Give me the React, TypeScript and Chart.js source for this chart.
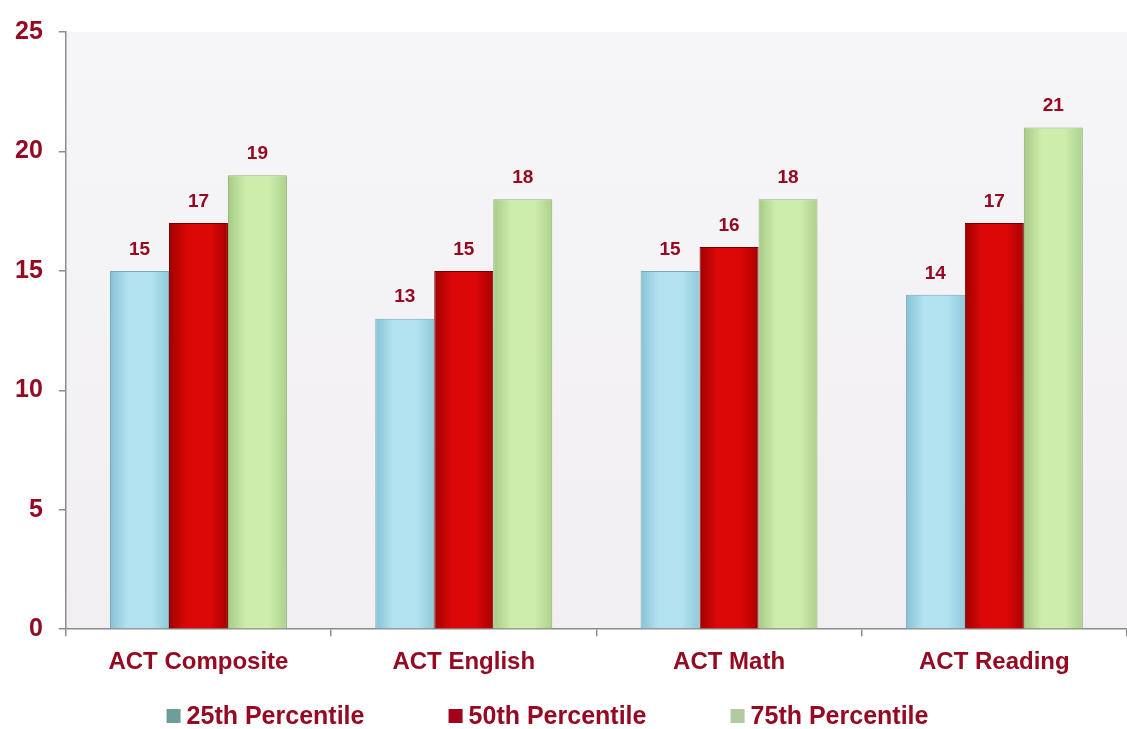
import React, { useEffect, useRef } from "react";
import { Chart, registerables } from "chart.js";

Chart.register(...registerables);

const categories = ["ACT Composite", "ACT English", "ACT Math", "ACT Reading"];
const seriesNames = ["25th Percentile", "50th Percentile", "75th Percentile"];
const p25 = [15, 13, 15, 14];
const p50 = [17, 15, 16, 17];
const p75 = [19, 18, 18, 21];
const yTicks = [0, 5, 10, 15, 20, 25];

const TEXT = "#950A22";
const FONT = "'Liberation Sans', Arial, sans-serif";

const fills = [
  ["#86C2D4", "#B2E2F0", "#8FCADB"],
  ["#A00000", "#DC0808", "#A80000"],
  ["#A6CB86", "#CDEDAB", "#ACD08C"],
];
const borders = ["#78A9B8", "#6E0000", "#93B474"];
const legendBoxes = ["#6E9E9A", "#A3001C", "#B2C9A4"];

const bgPlugin = {
  id: "plotBg",
  beforeDraw(chart: any) {
    const { ctx, chartArea: a } = chart;
    ctx.save();
    const g = ctx.createLinearGradient(0, a.top, 0, a.bottom);
    g.addColorStop(0, "#F6F5F7");
    g.addColorStop(1, "#F1EFF2");
    ctx.fillStyle = g;
    ctx.fillRect(a.left, a.top, a.right - a.left, a.bottom - a.top);
    ctx.restore();
  },
};

const barGradientPlugin = {
  id: "barGradient",
  beforeDatasetsDraw(chart: any) {
    const { ctx } = chart;
    chart.data.datasets.forEach((_: any, di: number) => {
      const meta = chart.getDatasetMeta(di);
      meta.data.forEach((el: any) => {
        const half = el.width / 2;
        const g = ctx.createLinearGradient(el.x - half, 0, el.x + half, 0);
        g.addColorStop(0, fills[di][0]);
        g.addColorStop(0.3, fills[di][1]);
        g.addColorStop(0.7, fills[di][1]);
        g.addColorStop(1, fills[di][2]);
        el.options = { ...el.options, backgroundColor: g };
      });
    });
  },
};

const labelPlugin = {
  id: "valueLabels",
  afterDatasetsDraw(chart: any) {
    const { ctx } = chart;
    ctx.save();
    ctx.font = `bold 19px ${FONT}`;
    ctx.fillStyle = TEXT;
    ctx.textAlign = "center";
    ctx.textBaseline = "bottom";
    chart.data.datasets.forEach((ds: any, di: number) => {
      const meta = chart.getDatasetMeta(di);
      meta.data.forEach((el: any, i: number) => {
        ctx.fillText(String(ds.data[i]), el.x, el.y - 12);
      });
    });
    ctx.restore();
  },
};

const legendPlugin = {
  id: "customLegend",
  afterDraw(chart: any) {
    const { ctx } = chart;
    ctx.save();
    ctx.font = `bold 25px ${FONT}`;
    ctx.textBaseline = "middle";
    ctx.textAlign = "left";
    const y = chart.height - 13;
    const mid = chart.width / 2 - 16;
    const spacing = 282;
    const box = 14;
    const gap = 6;
    chart.data.datasets.forEach((ds: any, i: number) => {
      const tw = ctx.measureText(ds.label).width;
      const w = box + gap + tw;
      const cx = mid + (i - 1) * spacing;
      const x0 = cx - w / 2;
      ctx.fillStyle = legendBoxes[i];
      ctx.fillRect(x0, y - box / 2, box, box);
      ctx.fillStyle = TEXT;
      ctx.fillText(ds.label, x0 + box + gap, y + 1);
    });
    ctx.restore();
  },
};

export default function App() {
  const ref = useRef<HTMLCanvasElement>(null);

  useEffect(() => {
    document.body.style.margin = "0";
    const values = [p25, p50, p75];
    const chart = new Chart(ref.current!, {
      type: "bar",
      data: {
        labels: categories,
        datasets: seriesNames.map((name, i) => ({
          label: name,
          data: values[i],
          backgroundColor: fills[i][1],
          borderColor: borders[i],
          borderWidth: 1,
          barPercentage: 1,
          categoryPercentage: 0.667,
        })),
      },
      options: {
        animation: false,
        responsive: false,
        maintainAspectRatio: false,
        layout: { padding: { top: 32, right: 0, bottom: 40, left: -1 } },
        plugins: {
          legend: { display: false },
          tooltip: { enabled: false },
        },
        scales: {
          x: {
            grid: {
              display: true,
              drawOnChartArea: false,
              tickLength: 7,
              color: "#8C8C8C",
              lineWidth: 1.5,
              offset: true,
            },
            border: { color: "#8C8C8C", width: 1.5 },
            ticks: {
              color: TEXT,
              font: { family: FONT, size: 24, weight: "bold" },
              padding: 12,
            },
          },
          y: {
            min: 0,
            max: 25,
            afterBuildTicks(scale: any) {
              scale.ticks = yTicks.map((v) => ({ value: v }));
            },
            grid: {
              display: true,
              drawOnChartArea: false,
              tickLength: 7,
              color: "#8C8C8C",
              lineWidth: 1.5,
            },
            border: { color: "#8C8C8C", width: 1.5 },
            ticks: {
              color: TEXT,
              font: { family: FONT, size: 25, weight: "bold" },
              padding: 16,
            },
          },
        },
      },
      plugins: [bgPlugin, barGradientPlugin, labelPlugin, legendPlugin],
    });
    return () => chart.destroy();
  }, []);

  return (
    <div style={{ width: 1127, height: 729, background: "#FFFFFF" }}>
      <canvas ref={ref} width={1127} height={729} style={{ display: "block" }} />
    </div>
  );
}
